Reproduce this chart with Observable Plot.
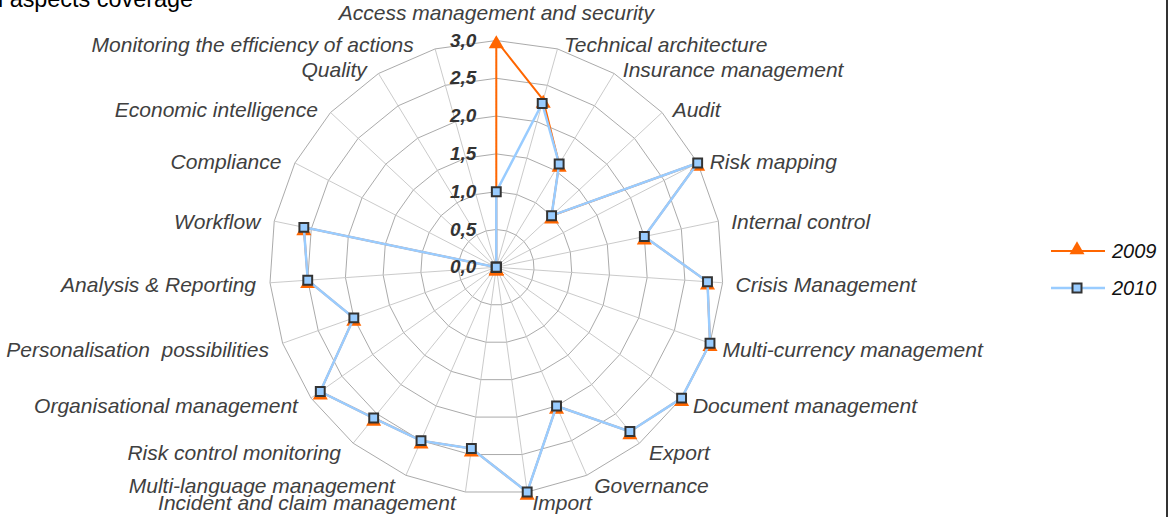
<!DOCTYPE html>
<html><head><meta charset="utf-8">
<script src="https://cdn.jsdelivr.net/npm/d3@7"></script>
<script src="https://cdn.jsdelivr.net/npm/@observablehq/plot@0.6"></script>
<style>
body{margin:0;background:#fff;overflow:hidden;}
#wrap{position:relative;width:1171px;height:517px;overflow:hidden;background:#fff;}
#chart svg{position:absolute;left:0;top:0;}
#title{position:absolute;right:978px;top:-12px;white-space:nowrap;font:23.4px "Liberation Sans",Arial,sans-serif;color:#000;line-height:23.4px;}
#border{position:absolute;left:1166px;top:0;width:2px;height:517px;background:#333;}
#legend{position:absolute;left:1040px;top:230px;}
</style></head><body>
<div id="wrap"><div id="chart"></div><div id="title">Functional aspects coverage</div><div id="legend"></div><div id="border"></div></div>
<script>
const categories = ["Access management and security","Technical architecture","Insurance management","Audit","Risk mapping","Internal control","Crisis Management","Multi-currency management","Document management","Export","Governance","Import","Incident and claim management","Multi-language management","Risk control monitoring","Organisational management","Personalisation  possibilities","Analysis & Reporting","Workflow","Compliance","Economic intelligence","Quality","Monitoring the efficiency of actions"];
const values2009 = [3.0,2.3,1.6,1.0,3.0,2.0,2.8,3.0,3.0,2.8,2.0,3.0,2.42,2.5,2.57,2.85,2.0,2.5,2.6,0,0,0,0];
const values2010 = [1.0,2.25,1.6,1.0,3.0,2.0,2.8,3.0,3.0,2.8,2.0,3.0,2.42,2.5,2.57,2.85,2.0,2.5,2.6,0,0,0,0];
const tickValues = [0,0.5,1,1.5,2,2.5,3];
const tickLabels = ["0,0","0,5","1,0","1,5","2,0","2,5","3,0"];
const seriesNames = ["2009","2010"];

const N = categories.length;
const maxV = 3;
const cx = 495.8, cy = 266.8, R = 226.8;
const unit = R / maxV;
const ang = i => 2 * Math.PI * i / N;
const X = (i, v) => v * Math.sin(ang(i));
const Y = (i, v) => v * Math.cos(ang(i));

const rings = [];
tickValues.filter(v => v > 0).forEach(v => {
  for (let i = 0; i <= N; i++) rings.push({x: X(i % N, v), y: Y(i % N, v), level: v});
});
const spokes = categories.map((c, i) => ({i, x2: X(i, maxV), y2: Y(i, maxV)}));
const series = vals => vals.map((v, i) => ({x: X(i, v), y: Y(i, v)}));
const s2009 = series(values2009), s2010 = series(values2010);
const closed = pts => pts.concat([pts[0]]);

const labels = categories.map((c, i) => {
  const a = ang(i), s = Math.sin(a), co = Math.cos(a);
  let dyPx = 2.5 - 6.5 * co + (co < -0.3 ? 2 : 0);
  let dxPx;
  if (i === 0) { dxPx = 0; dyPx = -27; }
  else if (s > 0) dxPx = 4 + 9 * Math.abs(s);
  else dxPx = -(9 + 5 * Math.abs(s)) - (co > 0.94 ? 11 : 0); // keep clear of the value axis labels
  return {text: c, i, side: i === 0 ? "top" : (s > 0 ? "right" : "left"),
    x: X(i, maxV) + dxPx / unit, y: Y(i, maxV) - dyPx / unit};
});
const ticks = tickValues.map((v, k) => ({x: 0, y: v, label: tickLabels[k]}));

const labelFont = {fontFamily: "'Liberation Sans', Arial, sans-serif", fontStyle: "italic", fontSize: 21, fill: "#404040"};

const plot = Plot.plot({
  width: 1171, height: 517,
  x: {domain: [-maxV, maxV], range: [cx - R, cx + R]},
  y: {domain: [-maxV, maxV], range: [cy + R, cy - R]},
  axis: null,
  style: {background: "transparent", overflow: "visible"},
  marks: [
    Plot.line(rings, {x: "x", y: "y", z: "level", stroke: "#a0a0a0", strokeWidth: 0.9}),
    Plot.link(spokes.filter(d => d.i > 0), {x1: 0, y1: 0, x2: "x2", y2: "y2", stroke: "#c4c4c4", strokeWidth: 0.9}),
    Plot.link(spokes.filter(d => d.i === 0), {x1: 0, y1: 0, x2: "x2", y2: "y2", stroke: "#b0b0b0", strokeWidth: 0.9, strokeDasharray: "1.5,1.5"}),
    Plot.line(closed(s2009), {x: "x", y: "y", stroke: "#FF6600", strokeWidth: 2}),
    Plot.dot(s2009, {x: "x", y: "y", symbol: "triangle", r: 5.6, fill: "#FF6600", dy: 3.5}),
    Plot.line(closed(s2010), {x: "x", y: "y", stroke: "#99CCFF", strokeWidth: 2.5}),
    Plot.dot(s2010, {x: "x", y: "y", symbol: "square", r: 5.0, fill: "#99CCFF", stroke: "#333333", strokeWidth: 2}),
    Plot.text(ticks, {x: "x", y: "y", text: "label", dx: -20, textAnchor: "end", fontFamily: "'Liberation Sans', Arial, sans-serif", fontStyle: "italic", fontWeight: "bold", fontSize: 19, fill: "#333333"}),
    Plot.text(labels.filter(d => d.side === "right"), {x: "x", y: "y", text: "text", textAnchor: "start", ...labelFont}),
    Plot.text(labels.filter(d => d.side === "left"), {x: "x", y: "y", text: "text", textAnchor: "end", ...labelFont}),
    Plot.text(labels.filter(d => d.side === "top"), {x: "x", y: "y", text: "text", textAnchor: "middle", ...labelFont})
  ]
});
document.getElementById("chart").appendChild(plot);

// legend
const lg = d3.select("#legend").append("svg").attr("width", 125).attr("height", 80);
const items = [{name: seriesNames[0], color: "#FF6600", sym: "tri", y: 21}, {name: seriesNames[1], color: "#99CCFF", sym: "sq", y: 58}];
items.forEach(it => {
  lg.append("line").attr("x1", 11).attr("x2", 65).attr("y1", it.y).attr("y2", it.y).attr("stroke", it.color).attr("stroke-width", it.sym === "tri" ? 2 : 2.5);
  if (it.sym === "tri") lg.append("path").attr("d", d3.symbol(d3.symbolTriangle, 97)()).attr("transform", `translate(37,${it.y - 1})`).attr("fill", it.color);
  else lg.append("rect").attr("x", 32.5).attr("y", it.y - 4.5).attr("width", 9).attr("height", 9).attr("fill", it.color).attr("stroke", "#333").attr("stroke-width", 2);
  lg.append("text").attr("x", 72).attr("y", it.y + 7).text(it.name).attr("font-family", "'Liberation Sans', Arial, sans-serif").attr("font-style", "italic").attr("font-size", 20).attr("fill", "#111");
});
</script>
</body></html>
